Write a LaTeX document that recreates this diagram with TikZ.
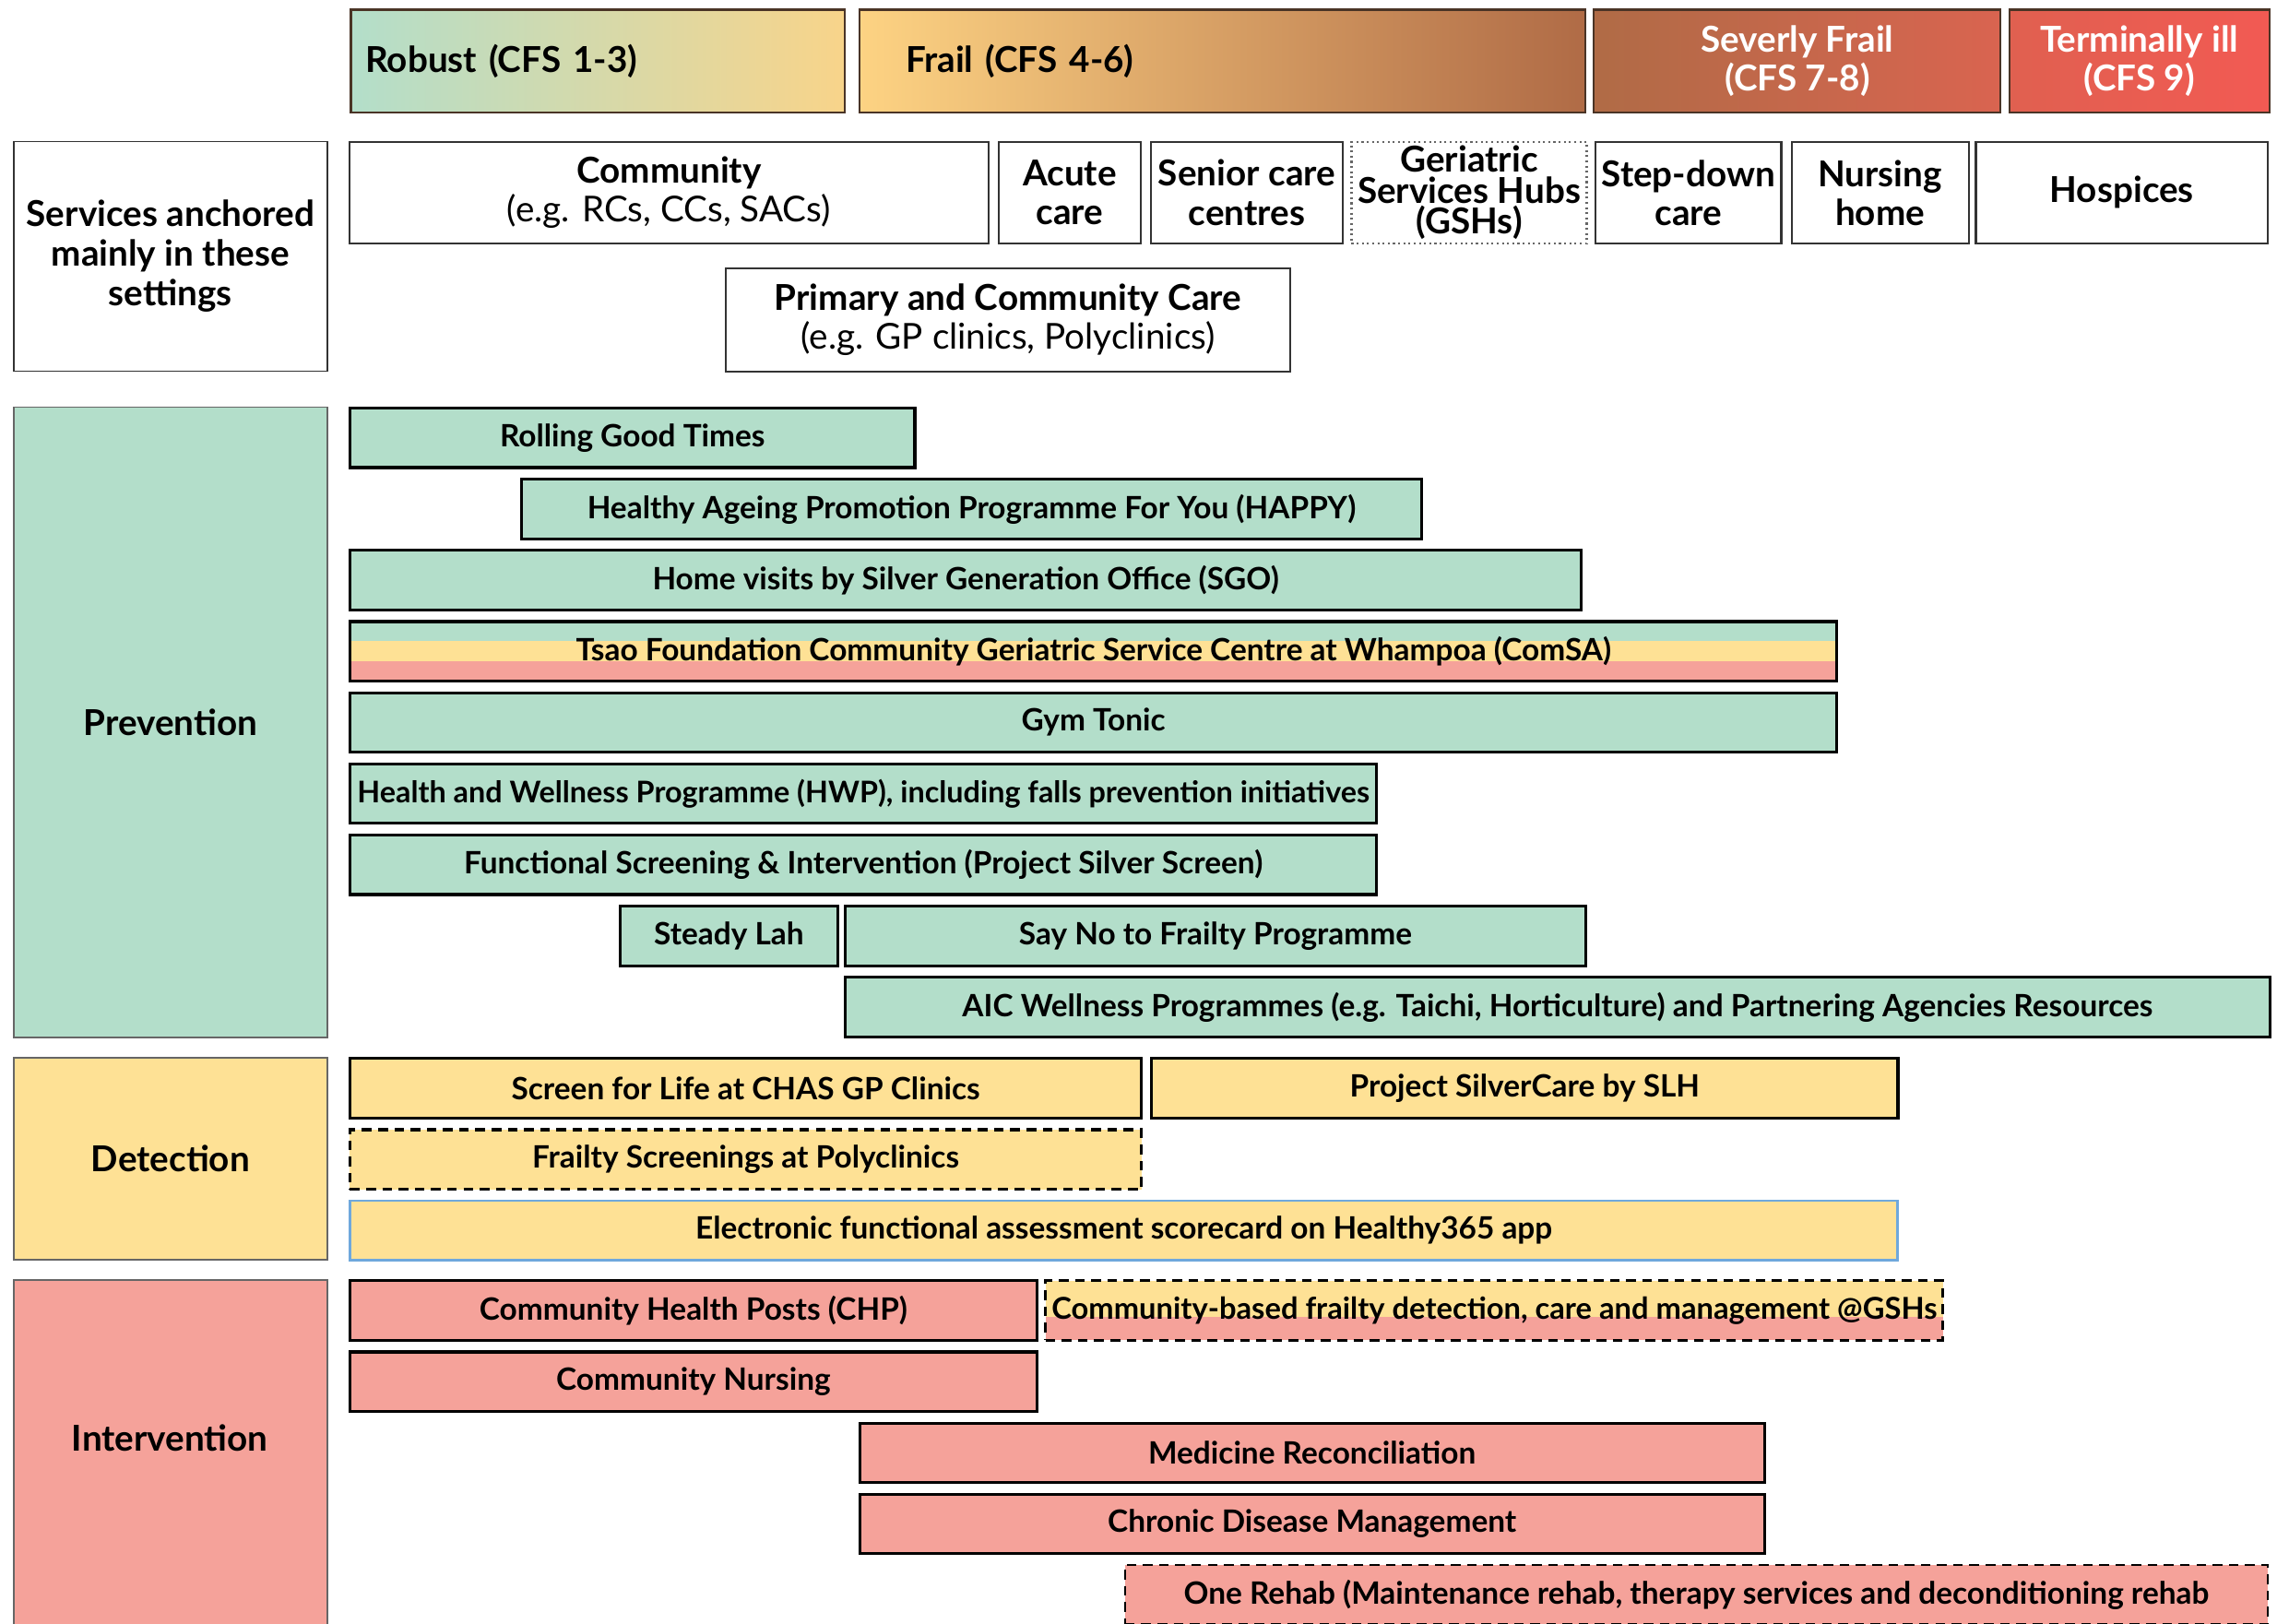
\documentclass[tikz,border=0pt]{standalone}
\usepackage{fontspec}
\setmainfont{Lato}
\usetikzlibrary{calc}

\newdimen\px \px=0.448pt

\definecolor{mint}{HTML}{B3DECA}
\definecolor{butter}{HTML}{FEE195}
\definecolor{salmon}{HTML}{F5A29A}
\definecolor{sand}{HTML}{F8D48A}
\definecolor{apricot}{HTML}{FDD383}
\definecolor{rust}{HTML}{B06B46}
\definecolor{brick}{HTML}{D96450}
\definecolor{coral}{HTML}{E06050}
\definecolor{scarlet}{HTML}{F25A53}
\definecolor{sky}{HTML}{6FA8DC}
\definecolor{umber}{HTML}{4A3426}

\tikzstyle{stage}     = [rectangle, draw=umber, line width=0.6pt, anchor=north west, minimum height=71\px, inner ysep=0pt, font=\bfseries\fontsize{11}{12}\selectfont]
\tikzstyle{setting}   = [rectangle, draw=black!80, line width=0.6pt, anchor=north west, minimum height=70\px, inner sep=0pt, align=center, font=\bfseries\fontsize{11}{12}\selectfont]
\tikzstyle{category}  = [rectangle, draw=black!60, line width=0.4pt, anchor=north west, minimum width=216\px, inner sep=0pt, align=center, font=\bfseries\fontsize{11}{12.3}\selectfont]
\tikzstyle{bar}       = [rectangle, draw, line width=0.9pt, anchor=north west, minimum height=41\px, inner sep=0pt, font=\bfseries\fontsize{9.5}{11}\selectfont]
\tikzstyle{greenbar}  = [bar, fill=mint]
\tikzstyle{yellowbar} = [bar, fill=butter]
\tikzstyle{redbar}    = [bar, fill=salmon]

\begin{document}
\begin{tikzpicture}[x=0.448pt, y=-0.448pt]
    \useasboundingbox (0,0) rectangle (1568,1118);

    % frailty stages
    \node[stage, left color=mint, right color=sand, text width=320\px, inner xsep=10\px, align=left] (robust) at (241,6) {Robust (CFS 1-3)};
    \node[stage, left color=apricot, right color=rust, text width=436\px, inner xsep=32\px, align=left] (frail) at (591,6) {Frail (CFS 4-6)};
    \node[stage, left color=rust, right color=brick, minimum width=280\px, align=center, text=white] (severe) at (1097,6) {Severly Frail\\(CFS 7-8)};
    \node[stage, left color=coral, right color=scarlet, minimum width=179\px, align=center, text=white] (terminal) at (1383,6) {Terminally ill\\(CFS 9)};

    % settings
    \node[category, draw=black!80, minimum height=158\px] (anchored) at (9,97) {Services anchored\\mainly in these\\settings};
    \node[setting, minimum width=440\px] (community) at (240,97) {Community\\{\mdseries (e.g. RCs, CCs, SACs)}};
    \node[setting, minimum width=98\px] (acute) at (687,97) {Acute\\care};
    \node[setting, minimum width=132\px] (senior) at (792,97) {Senior care\\centres};
    \node[setting, minimum width=162\px, draw=black!60, densely dotted, font=\bfseries\fontsize{11}{9.5}\selectfont] (gsh) at (930,97) {Geriatric\\Services Hubs\\(GSHs)};
    \node[setting, minimum width=128\px] (stepdown) at (1098,97) {Step-down\\care};
    \node[setting, minimum width=122\px] (nursing) at (1233,97) {Nursing\\home};
    \node[setting, minimum width=201\px] (hospices) at (1360,97) {Hospices};
    \node[setting, minimum width=389\px, minimum height=71\px] (primary) at (499,184) {Primary and Community Care\\{\mdseries (e.g. GP clinics, Polyclinics)}};

    % prevention
    \node[category, fill=mint, minimum height=434\px] (prevention) at (9,280) {Prevention};
    \node[greenbar, minimum width=389\px] (rgt) at (240,280) {Rolling Good Times};
    \node[greenbar, minimum width=620\px] (happy) at (358,329) {Healthy Ageing Promotion Programme For You (HAPPY)};
    \node[greenbar, minimum width=848\px] (sgo) at (240,378) {Home visits by Silver Generation Office (SGO)};
    \node[greenbar, minimum width=1024\px, path picture={
        \fill[butter] ($(path picture bounding box.north west)!0.33!(path picture bounding box.south west)$) rectangle (path picture bounding box.south east);
        \fill[salmon] ($(path picture bounding box.north west)!0.67!(path picture bounding box.south west)$) rectangle (path picture bounding box.south east);}] (comsa) at (240,427) {Tsao Foundation Community Geriatric Service Centre at Whampoa (ComSA)};
    \node[greenbar, minimum width=1024\px] (gym) at (240,476) {Gym Tonic};
    \node[greenbar, minimum width=707\px, font=\bfseries\fontsize{9.2}{11}\selectfont] (hwp) at (240,525) {Health and Wellness Programme (HWP), including falls prevention initiatives};
    \node[greenbar, minimum width=707\px] (silverscreen) at (240,574) {Functional Screening \& Intervention (Project Silver Screen)};
    \node[greenbar, minimum width=150\px] (steady) at (426,623) {Steady Lah};
    \node[greenbar, minimum width=510\px] (sayno) at (581,623) {Say No to Frailty Programme};
    \node[greenbar, minimum width=981\px] (aic) at (581,672) {AIC Wellness Programmes (e.g. Taichi, Horticulture) and Partnering Agencies Resources};

    % detection
    \node[category, fill=butter, minimum height=139\px] (detection) at (9,728) {Detection};
    \node[yellowbar, minimum width=545\px] (sfl) at (240,728) {Screen for Life at CHAS GP Clinics};
    \node[yellowbar, minimum width=514\px] (silvercare) at (792,728) {Project SilverCare by SLH};
    \node[yellowbar, minimum width=545\px, densely dashed] (polyscreen) at (240,777) {Frailty Screenings at Polyclinics};
    \node[yellowbar, minimum width=1066\px, draw=sky, line width=0.8pt] (scorecard) at (240,826) {Electronic functional assessment scorecard on Healthy365 app};

    % intervention
    \node[category, fill=salmon, minimum height=260\px] (intervention) at (9,881) {};
    \node[font=\bfseries\fontsize{11}{12.3}\selectfont] (interventionlabel) at (117,990) {Intervention};
    \node[redbar, minimum width=473\px] (chp) at (240,881) {Community Health Posts (CHP)};
    \node[redbar, minimum width=618\px, densely dashed, font=\bfseries\fontsize{9.3}{11}\selectfont, path picture={
        \fill[butter] (path picture bounding box.north west) rectangle ($(path picture bounding box.north east)!0.6!(path picture bounding box.south east)$);}] (gshcare) at (719,881) {Community-based frailty detection, care and management @GSHs};
    \node[redbar, minimum width=473\px] (cnursing) at (240,930) {Community Nursing};
    \node[redbar, minimum width=623\px] (medrec) at (591,979) {Medicine Reconciliation};
    \node[redbar, minimum width=623\px] (cdm) at (591,1028) {Chronic Disease Management};
    \node[redbar, minimum width=787\px, densely dashed, line width=0.6pt] (onerehab) at (774,1077) {One Rehab (Maintenance rehab, therapy services and deconditioning rehab};
\end{tikzpicture}
\end{document}
